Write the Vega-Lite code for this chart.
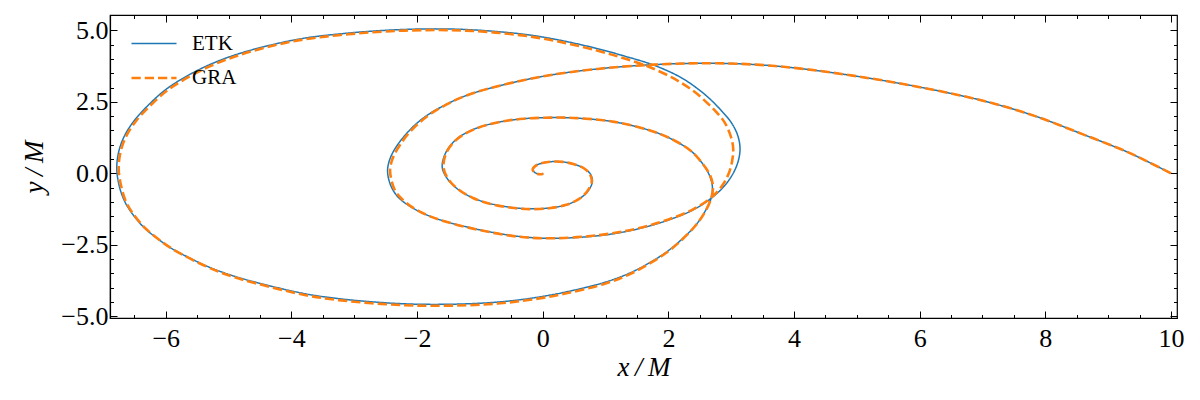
{
  "$schema": "https://vega.github.io/schema/vega-lite/v6.json",
  "width": 1067,
  "height": 303,
  "autosize": {"type": "none"},
  "padding": {"left": 110, "top": 15, "right": 23, "bottom": 82},
  "background": "white",
  "config": {
    "view": {"stroke": "black", "strokeWidth": 1.2},
    "font": "Liberation Serif",
    "axis": {
      "grid": false,
      "domainColor": "black",
      "domainWidth": 1.2,
      "tickColor": "black",
      "tickWidth": 1,
      "labelFont": "Liberation Serif",
      "labelFontSize": 26,
      "labelColor": "black",
      "labelOverlap": false,
      "labelFlush": false,
      "titleFont": "Liberation Serif",
      "titleFontSize": 27,
      "titleFontStyle": "italic",
      "titleFontWeight": "normal",
      "titleColor": "black"
    }
  },
  "datasets": {
    "orbit": [
      {"run": "ETK", "i": 0, "x": 10.0, "y": 0.0},
      {"run": "ETK", "i": 1, "x": 9.62, "y": 0.42},
      {"run": "ETK", "i": 2, "x": 9.27, "y": 0.78},
      {"run": "ETK", "i": 3, "x": 8.58, "y": 1.38},
      {"run": "ETK", "i": 4, "x": 7.84, "y": 2.0},
      {"run": "ETK", "i": 5, "x": 7.04, "y": 2.52},
      {"run": "ETK", "i": 6, "x": 6.08, "y": 2.98},
      {"run": "ETK", "i": 7, "x": 5.07, "y": 3.37},
      {"run": "ETK", "i": 8, "x": 4.11, "y": 3.66},
      {"run": "ETK", "i": 9, "x": 3.4, "y": 3.8},
      {"run": "ETK", "i": 10, "x": 2.6, "y": 3.85},
      {"run": "ETK", "i": 11, "x": 1.77, "y": 3.8},
      {"run": "ETK", "i": 12, "x": 0.87, "y": 3.65},
      {"run": "ETK", "i": 13, "x": 0.0, "y": 3.39},
      {"run": "ETK", "i": 14, "x": -0.83, "y": 2.98},
      {"run": "ETK", "i": 15, "x": -1.31, "y": 2.64},
      {"run": "ETK", "i": 16, "x": -1.79, "y": 2.1},
      {"run": "ETK", "i": 17, "x": -2.02, "y": 1.72},
      {"run": "ETK", "i": 18, "x": -2.18, "y": 1.36},
      {"run": "ETK", "i": 19, "x": -2.31, "y": 1.0},
      {"run": "ETK", "i": 20, "x": -2.4, "y": 0.67},
      {"run": "ETK", "i": 21, "x": -2.45, "y": 0.38},
      {"run": "ETK", "i": 22, "x": -2.47, "y": 0.1},
      {"run": "ETK", "i": 23, "x": -2.45, "y": -0.22},
      {"run": "ETK", "i": 24, "x": -2.39, "y": -0.56},
      {"run": "ETK", "i": 25, "x": -2.28, "y": -0.88},
      {"run": "ETK", "i": 26, "x": -2.1, "y": -1.17},
      {"run": "ETK", "i": 27, "x": -1.85, "y": -1.45},
      {"run": "ETK", "i": 28, "x": -1.55, "y": -1.68},
      {"run": "ETK", "i": 29, "x": -0.99, "y": -1.98},
      {"run": "ETK", "i": 30, "x": -0.4, "y": -2.2},
      {"run": "ETK", "i": 31, "x": 0.13, "y": -2.27},
      {"run": "ETK", "i": 32, "x": 0.93, "y": -2.17},
      {"run": "ETK", "i": 33, "x": 1.5, "y": -1.95},
      {"run": "ETK", "i": 34, "x": 1.99, "y": -1.64},
      {"run": "ETK", "i": 35, "x": 2.4, "y": -1.27},
      {"run": "ETK", "i": 36, "x": 2.68, "y": -0.87},
      {"run": "ETK", "i": 37, "x": 2.9, "y": -0.42},
      {"run": "ETK", "i": 38, "x": 3.05, "y": 0.08},
      {"run": "ETK", "i": 39, "x": 3.12, "y": 0.5},
      {"run": "ETK", "i": 40, "x": 3.14, "y": 0.9},
      {"run": "ETK", "i": 41, "x": 3.1, "y": 1.35},
      {"run": "ETK", "i": 42, "x": 3.0, "y": 1.78},
      {"run": "ETK", "i": 43, "x": 2.86, "y": 2.15},
      {"run": "ETK", "i": 44, "x": 2.7, "y": 2.52},
      {"run": "ETK", "i": 45, "x": 2.5, "y": 2.9},
      {"run": "ETK", "i": 46, "x": 2.2, "y": 3.35},
      {"run": "ETK", "i": 47, "x": 1.77, "y": 3.78},
      {"run": "ETK", "i": 48, "x": 1.3, "y": 4.1},
      {"run": "ETK", "i": 49, "x": 0.87, "y": 4.36},
      {"run": "ETK", "i": 50, "x": 0.35, "y": 4.62},
      {"run": "ETK", "i": 51, "x": -0.19, "y": 4.83},
      {"run": "ETK", "i": 52, "x": -0.75, "y": 4.96},
      {"run": "ETK", "i": 53, "x": -1.25, "y": 5.03},
      {"run": "ETK", "i": 54, "x": -1.7, "y": 5.05},
      {"run": "ETK", "i": 55, "x": -2.2, "y": 5.03},
      {"run": "ETK", "i": 56, "x": -2.72, "y": 4.97},
      {"run": "ETK", "i": 57, "x": -3.25, "y": 4.87},
      {"run": "ETK", "i": 58, "x": -3.78, "y": 4.73},
      {"run": "ETK", "i": 59, "x": -4.3, "y": 4.5},
      {"run": "ETK", "i": 60, "x": -4.84, "y": 4.18},
      {"run": "ETK", "i": 61, "x": -5.26, "y": 3.84},
      {"run": "ETK", "i": 62, "x": -5.64, "y": 3.43},
      {"run": "ETK", "i": 63, "x": -6.0, "y": 2.93},
      {"run": "ETK", "i": 64, "x": -6.28, "y": 2.38},
      {"run": "ETK", "i": 65, "x": -6.5, "y": 1.85},
      {"run": "ETK", "i": 66, "x": -6.66, "y": 1.3},
      {"run": "ETK", "i": 67, "x": -6.75, "y": 0.75},
      {"run": "ETK", "i": 68, "x": -6.78, "y": 0.16},
      {"run": "ETK", "i": 69, "x": -6.74, "y": -0.45},
      {"run": "ETK", "i": 70, "x": -6.65, "y": -1.0},
      {"run": "ETK", "i": 71, "x": -6.51, "y": -1.48},
      {"run": "ETK", "i": 72, "x": -6.33, "y": -1.93},
      {"run": "ETK", "i": 73, "x": -6.12, "y": -2.3},
      {"run": "ETK", "i": 74, "x": -5.91, "y": -2.62},
      {"run": "ETK", "i": 75, "x": -5.37, "y": -3.22},
      {"run": "ETK", "i": 76, "x": -5.0, "y": -3.53},
      {"run": "ETK", "i": 77, "x": -4.58, "y": -3.8},
      {"run": "ETK", "i": 78, "x": -3.78, "y": -4.21},
      {"run": "ETK", "i": 79, "x": -3.25, "y": -4.38},
      {"run": "ETK", "i": 80, "x": -2.72, "y": -4.49},
      {"run": "ETK", "i": 81, "x": -2.2, "y": -4.56},
      {"run": "ETK", "i": 82, "x": -1.75, "y": -4.58},
      {"run": "ETK", "i": 83, "x": -1.2, "y": -4.56},
      {"run": "ETK", "i": 84, "x": -0.72, "y": -4.5},
      {"run": "ETK", "i": 85, "x": -0.2, "y": -4.37},
      {"run": "ETK", "i": 86, "x": 0.34, "y": -4.16},
      {"run": "ETK", "i": 87, "x": 1.0, "y": -3.8},
      {"run": "ETK", "i": 88, "x": 1.4, "y": -3.47},
      {"run": "ETK", "i": 89, "x": 1.72, "y": -3.1},
      {"run": "ETK", "i": 90, "x": 2.0, "y": -2.7},
      {"run": "ETK", "i": 91, "x": 2.25, "y": -2.23},
      {"run": "ETK", "i": 92, "x": 2.44, "y": -1.8},
      {"run": "ETK", "i": 93, "x": 2.57, "y": -1.38},
      {"run": "ETK", "i": 94, "x": 2.68, "y": -0.87},
      {"run": "ETK", "i": 95, "x": 2.7, "y": -0.45},
      {"run": "ETK", "i": 96, "x": 2.65, "y": -0.05},
      {"run": "ETK", "i": 97, "x": 2.53, "y": 0.38},
      {"run": "ETK", "i": 98, "x": 2.35, "y": 0.8},
      {"run": "ETK", "i": 99, "x": 2.05, "y": 1.2},
      {"run": "ETK", "i": 100, "x": 1.72, "y": 1.49},
      {"run": "ETK", "i": 101, "x": 1.14, "y": 1.8},
      {"run": "ETK", "i": 102, "x": 0.55, "y": 1.93},
      {"run": "ETK", "i": 103, "x": 0.18, "y": 1.95},
      {"run": "ETK", "i": 104, "x": -0.3, "y": 1.91},
      {"run": "ETK", "i": 105, "x": -0.72, "y": 1.78},
      {"run": "ETK", "i": 106, "x": -1.1, "y": 1.54},
      {"run": "ETK", "i": 107, "x": -1.37, "y": 1.2},
      {"run": "ETK", "i": 108, "x": -1.54, "y": 0.74},
      {"run": "ETK", "i": 109, "x": -1.6, "y": 0.22},
      {"run": "ETK", "i": 110, "x": -1.52, "y": -0.18},
      {"run": "ETK", "i": 111, "x": -1.36, "y": -0.54},
      {"run": "ETK", "i": 112, "x": -1.12, "y": -0.85},
      {"run": "ETK", "i": 113, "x": -0.83, "y": -1.06},
      {"run": "ETK", "i": 114, "x": -0.5, "y": -1.19},
      {"run": "ETK", "i": 115, "x": -0.19, "y": -1.24},
      {"run": "ETK", "i": 116, "x": 0.1, "y": -1.21},
      {"run": "ETK", "i": 117, "x": 0.36, "y": -1.11},
      {"run": "ETK", "i": 118, "x": 0.56, "y": -0.92},
      {"run": "ETK", "i": 119, "x": 0.71, "y": -0.65},
      {"run": "ETK", "i": 120, "x": 0.79, "y": -0.3},
      {"run": "ETK", "i": 121, "x": 0.76, "y": -0.03},
      {"run": "ETK", "i": 122, "x": 0.66, "y": 0.17},
      {"run": "ETK", "i": 123, "x": 0.5, "y": 0.32},
      {"run": "ETK", "i": 124, "x": 0.32, "y": 0.4},
      {"run": "ETK", "i": 125, "x": 0.15, "y": 0.41},
      {"run": "ETK", "i": 126, "x": 0.01, "y": 0.37},
      {"run": "ETK", "i": 127, "x": -0.11, "y": 0.27},
      {"run": "ETK", "i": 128, "x": -0.16, "y": 0.13},
      {"run": "ETK", "i": 129, "x": -0.12, "y": 0.02},
      {"run": "ETK", "i": 130, "x": -0.05, "y": -0.03},
      {"run": "ETK", "i": 131, "x": 0.01, "y": -0.01},
      {"run": "GRA", "i": 0, "x": 10.0, "y": 0.0},
      {"run": "GRA", "i": 1, "x": 9.62, "y": 0.42},
      {"run": "GRA", "i": 2, "x": 9.27, "y": 0.78},
      {"run": "GRA", "i": 3, "x": 8.58, "y": 1.38},
      {"run": "GRA", "i": 4, "x": 7.84, "y": 2.0},
      {"run": "GRA", "i": 5, "x": 7.04, "y": 2.52},
      {"run": "GRA", "i": 6, "x": 6.08, "y": 2.98},
      {"run": "GRA", "i": 7, "x": 5.07, "y": 3.37},
      {"run": "GRA", "i": 8, "x": 4.11, "y": 3.66},
      {"run": "GRA", "i": 9, "x": 3.4, "y": 3.8},
      {"run": "GRA", "i": 10, "x": 2.6, "y": 3.85},
      {"run": "GRA", "i": 11, "x": 1.77, "y": 3.8},
      {"run": "GRA", "i": 12, "x": 0.87, "y": 3.65},
      {"run": "GRA", "i": 13, "x": 0.0, "y": 3.39},
      {"run": "GRA", "i": 14, "x": -0.83, "y": 2.98},
      {"run": "GRA", "i": 15, "x": -1.31, "y": 2.64},
      {"run": "GRA", "i": 16, "x": -1.77, "y": 2.1},
      {"run": "GRA", "i": 17, "x": -1.99, "y": 1.72},
      {"run": "GRA", "i": 18, "x": -2.15, "y": 1.36},
      {"run": "GRA", "i": 19, "x": -2.27, "y": 1.0},
      {"run": "GRA", "i": 20, "x": -2.36, "y": 0.67},
      {"run": "GRA", "i": 21, "x": -2.41, "y": 0.38},
      {"run": "GRA", "i": 22, "x": -2.43, "y": 0.1},
      {"run": "GRA", "i": 23, "x": -2.41, "y": -0.22},
      {"run": "GRA", "i": 24, "x": -2.36, "y": -0.56},
      {"run": "GRA", "i": 25, "x": -2.25, "y": -0.88},
      {"run": "GRA", "i": 26, "x": -2.08, "y": -1.18},
      {"run": "GRA", "i": 27, "x": -1.84, "y": -1.46},
      {"run": "GRA", "i": 28, "x": -1.54, "y": -1.69},
      {"run": "GRA", "i": 29, "x": -0.99, "y": -1.99},
      {"run": "GRA", "i": 30, "x": -0.4, "y": -2.21},
      {"run": "GRA", "i": 31, "x": 0.13, "y": -2.27},
      {"run": "GRA", "i": 32, "x": 0.93, "y": -2.15},
      {"run": "GRA", "i": 33, "x": 1.5, "y": -1.93},
      {"run": "GRA", "i": 34, "x": 1.99, "y": -1.62},
      {"run": "GRA", "i": 35, "x": 2.4, "y": -1.25},
      {"run": "GRA", "i": 36, "x": 2.68, "y": -0.85},
      {"run": "GRA", "i": 37, "x": 2.86, "y": -0.42},
      {"run": "GRA", "i": 38, "x": 2.97, "y": 0.05},
      {"run": "GRA", "i": 39, "x": 3.02, "y": 0.5},
      {"run": "GRA", "i": 40, "x": 3.03, "y": 0.92},
      {"run": "GRA", "i": 41, "x": 2.98, "y": 1.38},
      {"run": "GRA", "i": 42, "x": 2.89, "y": 1.8},
      {"run": "GRA", "i": 43, "x": 2.76, "y": 2.15},
      {"run": "GRA", "i": 44, "x": 2.6, "y": 2.5},
      {"run": "GRA", "i": 45, "x": 2.41, "y": 2.86},
      {"run": "GRA", "i": 46, "x": 2.1, "y": 3.3},
      {"run": "GRA", "i": 47, "x": 1.65, "y": 3.76},
      {"run": "GRA", "i": 48, "x": 1.25, "y": 4.05},
      {"run": "GRA", "i": 49, "x": 0.85, "y": 4.3},
      {"run": "GRA", "i": 50, "x": 0.35, "y": 4.56},
      {"run": "GRA", "i": 51, "x": -0.19, "y": 4.78},
      {"run": "GRA", "i": 52, "x": -0.75, "y": 4.92},
      {"run": "GRA", "i": 53, "x": -1.25, "y": 4.99},
      {"run": "GRA", "i": 54, "x": -1.7, "y": 5.01},
      {"run": "GRA", "i": 55, "x": -2.2, "y": 4.99},
      {"run": "GRA", "i": 56, "x": -2.72, "y": 4.93},
      {"run": "GRA", "i": 57, "x": -3.25, "y": 4.83},
      {"run": "GRA", "i": 58, "x": -3.78, "y": 4.69},
      {"run": "GRA", "i": 59, "x": -4.3, "y": 4.46},
      {"run": "GRA", "i": 60, "x": -4.82, "y": 4.14},
      {"run": "GRA", "i": 61, "x": -5.24, "y": 3.8},
      {"run": "GRA", "i": 62, "x": -5.61, "y": 3.4},
      {"run": "GRA", "i": 63, "x": -5.97, "y": 2.91},
      {"run": "GRA", "i": 64, "x": -6.25, "y": 2.36},
      {"run": "GRA", "i": 65, "x": -6.47, "y": 1.84},
      {"run": "GRA", "i": 66, "x": -6.63, "y": 1.3},
      {"run": "GRA", "i": 67, "x": -6.72, "y": 0.75},
      {"run": "GRA", "i": 68, "x": -6.75, "y": 0.16},
      {"run": "GRA", "i": 69, "x": -6.71, "y": -0.45},
      {"run": "GRA", "i": 70, "x": -6.63, "y": -1.01},
      {"run": "GRA", "i": 71, "x": -6.49, "y": -1.5},
      {"run": "GRA", "i": 72, "x": -6.31, "y": -1.95},
      {"run": "GRA", "i": 73, "x": -6.1, "y": -2.33},
      {"run": "GRA", "i": 74, "x": -5.89, "y": -2.65},
      {"run": "GRA", "i": 75, "x": -5.35, "y": -3.26},
      {"run": "GRA", "i": 76, "x": -4.99, "y": -3.57},
      {"run": "GRA", "i": 77, "x": -4.57, "y": -3.84},
      {"run": "GRA", "i": 78, "x": -3.77, "y": -4.26},
      {"run": "GRA", "i": 79, "x": -3.25, "y": -4.43},
      {"run": "GRA", "i": 80, "x": -2.72, "y": -4.54},
      {"run": "GRA", "i": 81, "x": -2.2, "y": -4.61},
      {"run": "GRA", "i": 82, "x": -1.75, "y": -4.63},
      {"run": "GRA", "i": 83, "x": -1.2, "y": -4.61},
      {"run": "GRA", "i": 84, "x": -0.72, "y": -4.55},
      {"run": "GRA", "i": 85, "x": -0.2, "y": -4.42},
      {"run": "GRA", "i": 86, "x": 0.34, "y": -4.21},
      {"run": "GRA", "i": 87, "x": 1.0, "y": -3.85},
      {"run": "GRA", "i": 88, "x": 1.39, "y": -3.52},
      {"run": "GRA", "i": 89, "x": 1.71, "y": -3.14},
      {"run": "GRA", "i": 90, "x": 1.99, "y": -2.74},
      {"run": "GRA", "i": 91, "x": 2.24, "y": -2.27},
      {"run": "GRA", "i": 92, "x": 2.43, "y": -1.83},
      {"run": "GRA", "i": 93, "x": 2.57, "y": -1.4},
      {"run": "GRA", "i": 94, "x": 2.68, "y": -0.88},
      {"run": "GRA", "i": 95, "x": 2.71, "y": -0.45},
      {"run": "GRA", "i": 96, "x": 2.66, "y": -0.05},
      {"run": "GRA", "i": 97, "x": 2.53, "y": 0.38},
      {"run": "GRA", "i": 98, "x": 2.35, "y": 0.8},
      {"run": "GRA", "i": 99, "x": 2.05, "y": 1.2},
      {"run": "GRA", "i": 100, "x": 1.72, "y": 1.49},
      {"run": "GRA", "i": 101, "x": 1.14, "y": 1.8},
      {"run": "GRA", "i": 102, "x": 0.55, "y": 1.93},
      {"run": "GRA", "i": 103, "x": 0.18, "y": 1.95},
      {"run": "GRA", "i": 104, "x": -0.3, "y": 1.91},
      {"run": "GRA", "i": 105, "x": -0.72, "y": 1.78},
      {"run": "GRA", "i": 106, "x": -1.09, "y": 1.54},
      {"run": "GRA", "i": 107, "x": -1.36, "y": 1.2},
      {"run": "GRA", "i": 108, "x": -1.53, "y": 0.74},
      {"run": "GRA", "i": 109, "x": -1.58, "y": 0.22},
      {"run": "GRA", "i": 110, "x": -1.51, "y": -0.18},
      {"run": "GRA", "i": 111, "x": -1.35, "y": -0.55},
      {"run": "GRA", "i": 112, "x": -1.11, "y": -0.86},
      {"run": "GRA", "i": 113, "x": -0.83, "y": -1.07},
      {"run": "GRA", "i": 114, "x": -0.5, "y": -1.2},
      {"run": "GRA", "i": 115, "x": -0.19, "y": -1.25},
      {"run": "GRA", "i": 116, "x": 0.1, "y": -1.22},
      {"run": "GRA", "i": 117, "x": 0.36, "y": -1.11},
      {"run": "GRA", "i": 118, "x": 0.56, "y": -0.92},
      {"run": "GRA", "i": 119, "x": 0.7, "y": -0.65},
      {"run": "GRA", "i": 120, "x": 0.78, "y": -0.3},
      {"run": "GRA", "i": 121, "x": 0.75, "y": -0.03},
      {"run": "GRA", "i": 122, "x": 0.66, "y": 0.17},
      {"run": "GRA", "i": 123, "x": 0.5, "y": 0.32},
      {"run": "GRA", "i": 124, "x": 0.32, "y": 0.4},
      {"run": "GRA", "i": 125, "x": 0.15, "y": 0.41},
      {"run": "GRA", "i": 126, "x": 0.01, "y": 0.37},
      {"run": "GRA", "i": 127, "x": -0.11, "y": 0.27},
      {"run": "GRA", "i": 128, "x": -0.16, "y": 0.13},
      {"run": "GRA", "i": 129, "x": -0.12, "y": 0.02},
      {"run": "GRA", "i": 130, "x": -0.05, "y": -0.03},
      {"run": "GRA", "i": 131, "x": 0.01, "y": -0.01}
    ]
  },
  "data": {"name": "orbit"},
  "layer": [
    {
      "mark": {"type": "line", "interpolate": "catmull-rom", "clip": true},
      "encoding": {
        "x": {
          "field": "x", "type": "quantitative",
          "scale": {"domain": [-6.888, 10.096], "nice": false, "zero": false},
          "axis": {
            "orient": "bottom",
            "title": "x\u2009/\u2009M",
            "values": [-6, -4, -2, 0, 2, 4, 6, 8, 10],
            "format": ".0f",
            "tickSize": -7,
            "labelPadding": 14,
            "titlePadding": 3
          }
        },
        "y": {
          "field": "y", "type": "quantitative",
          "scale": {"domain": [-5.056, 5.535], "nice": false, "zero": false},
          "axis": {
            "orient": "left",
            "title": "y\u2009/\u2009M",
            "values": [-5, -2.5, 0, 2.5, 5],
            "format": ".1f",
            "tickSize": -7,
            "labelPadding": 9,
            "titlePadding": 12
          }
        },
        "order": {"field": "i", "type": "quantitative"},
        "color": {
          "field": "run", "type": "nominal",
          "scale": {"domain": ["ETK", "GRA"], "range": ["#1f77b4", "#ff7f0e"]},
          "legend": {
            "title": null,
            "orient": "none",
            "legendX": 20,
            "legendY": 5,
            "symbolType": "M-1,0H1",
            "symbolSize": 2025,
            "labelFont": "Liberation Serif",
            "labelFontSize": 21,
            "labelColor": "black",
            "labelOffset": 14,
            "rowPadding": -2
          }
        },
        "strokeDash": {
          "field": "run", "type": "nominal",
          "scale": {"domain": ["ETK", "GRA"], "range": [[1, 0], [9.25, 4]]},
          "legend": {
            "title": null,
            "orient": "none",
            "legendX": 20,
            "legendY": 5,
            "symbolType": "M-1,0H1",
            "symbolSize": 2025,
            "labelFont": "Liberation Serif",
            "labelFontSize": 21,
            "labelColor": "black",
            "labelOffset": 14,
            "rowPadding": -2
          }
        },
        "strokeWidth": {
          "field": "run", "type": "nominal",
          "scale": {"domain": ["ETK", "GRA"], "range": [1.5, 2.6]},
          "legend": {
            "title": null,
            "orient": "none",
            "legendX": 20,
            "legendY": 5,
            "symbolType": "M-1,0H1",
            "symbolSize": 2025,
            "labelFont": "Liberation Serif",
            "labelFontSize": 21,
            "labelColor": "black",
            "labelOffset": 14,
            "rowPadding": -2
          }
        }
      }
    },
    {
      "mark": {"type": "point", "opacity": 0},
      "encoding": {
        "x": {
          "field": "x", "type": "quantitative",
          "scale": {"domain": [-6.888, 10.096], "nice": false, "zero": false},
          "axis": {
            "orient": "bottom", "title": null, "labels": false, "domain": false,
            "values": [-6.5, -5.5, -5, -4.5, -3.5, -3, -2.5, -1.5, -1, -0.5, 0.5, 1, 1.5, 2.5, 3, 3.5, 4.5, 5, 5.5, 6.5, 7, 7.5, 8.5, 9, 9.5],
            "tickSize": -3.5
          }
        },
        "y": {
          "field": "y", "type": "quantitative",
          "scale": {"domain": [-5.056, 5.535], "nice": false, "zero": false},
          "axis": {
            "orient": "left", "title": null, "labels": false, "domain": false,
            "values": [-4.5, -4, -3.5, -3, -2, -1.5, -1, -0.5, 0.5, 1, 1.5, 2, 3, 3.5, 4, 4.5],
            "tickSize": -3.5
          }
        }
      }
    },
    {
      "mark": {"type": "point", "opacity": 0},
      "encoding": {
        "x": {
          "field": "x", "type": "quantitative",
          "scale": {"domain": [-6.888, 10.096], "nice": false, "zero": false},
          "axis": {
            "orient": "top", "title": null, "labels": false, "domain": false,
            "values": [-6, -4, -2, 0, 2, 4, 6, 8, 10],
            "tickSize": -7
          }
        },
        "y": {
          "field": "y", "type": "quantitative",
          "scale": {"domain": [-5.056, 5.535], "nice": false, "zero": false},
          "axis": {
            "orient": "right", "title": null, "labels": false, "domain": false,
            "values": [-5, -2.5, 0, 2.5, 5],
            "tickSize": -7
          }
        }
      }
    },
    {
      "mark": {"type": "point", "opacity": 0},
      "encoding": {
        "x": {
          "field": "x", "type": "quantitative",
          "scale": {"domain": [-6.888, 10.096], "nice": false, "zero": false},
          "axis": {
            "orient": "top", "title": null, "labels": false, "domain": false,
            "values": [-6.5, -5.5, -5, -4.5, -3.5, -3, -2.5, -1.5, -1, -0.5, 0.5, 1, 1.5, 2.5, 3, 3.5, 4.5, 5, 5.5, 6.5, 7, 7.5, 8.5, 9, 9.5],
            "tickSize": -3.5
          }
        },
        "y": {
          "field": "y", "type": "quantitative",
          "scale": {"domain": [-5.056, 5.535], "nice": false, "zero": false},
          "axis": {
            "orient": "right", "title": null, "labels": false, "domain": false,
            "values": [-4.5, -4, -3.5, -3, -2, -1.5, -1, -0.5, 0.5, 1, 1.5, 2, 3, 3.5, 4, 4.5],
            "tickSize": -3.5
          }
        }
      }
    }
  ],
  "resolve": {"axis": {"x": "independent", "y": "independent"}}
}
